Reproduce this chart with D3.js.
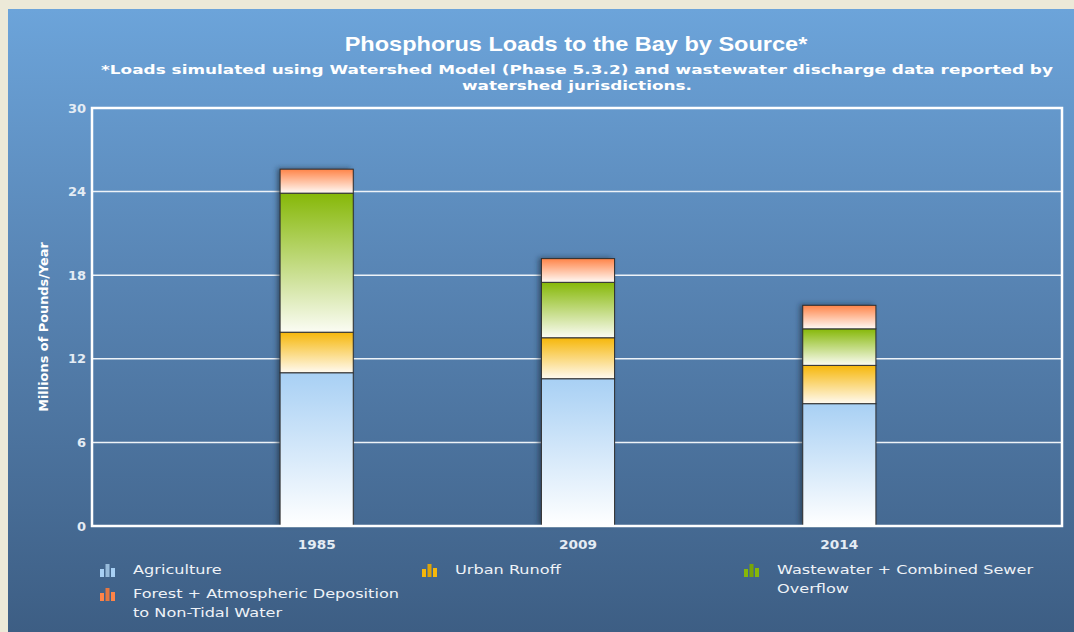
<!DOCTYPE html>
<html>
<head>
<meta charset="utf-8">
<script src="https://cdn.jsdelivr.net/npm/d3@7"></script>
<style>
  body { margin: 0; background: #ece9d8; }
  svg { display: block; }
</style>
</head>
<body>
<div class="vis-holder"></div>
<script>
var years = ["1985", "2009", "2014"];
var sources = ["Agriculture", "Urban Runoff", "Wastewater + Combined Sewer Overflow",
               "Forest + Atmospheric Deposition to Non-Tidal Water"];
var agriculture = [11.0, 10.57, 8.78];
var urbanRunoff = [2.91, 2.94, 2.75];
var wastewater = [9.98, 3.98, 2.62];
var forest = [1.72, 1.70, 1.69];
var yTicks = [0, 6, 12, 18, 24, 30];

var colors = ["#a8d0f4", "#f6b70a", "#86b808", "#ff8448"];
var bottoms = ["#ffffff", "#fffaf0", "#fbfcf4", "#fffaf6"];

var width = 1074;
var height = 632;
var margin = { top: 108, bottom: 106, left: 92, right: 12 };

// the original page is drawn a bit wider than the fonts we have
function stretch(sel, k) {
  sel.each(function() {
    var w = this.getComputedTextLength();
    d3.select(this).attr("textLength", w * k).attr("lengthAdjust", "spacingAndGlyphs");
  });
}

var svg = d3.select('div.vis-holder')
            .append('svg')
            .attr('width', width)
            .attr('height', height);

var defs = svg.append("defs");

var bg = defs.append("linearGradient").attr("id", "bg")
             .attr("x1", 0).attr("y1", 0).attr("x2", 0).attr("y2", 1);
bg.append("stop").attr("offset", "0%").attr("stop-color", "#6ca4da");
bg.append("stop").attr("offset", "45%").attr("stop-color", "#5783b2");
bg.append("stop").attr("offset", "100%").attr("stop-color", "#3d5e84");

colors.forEach(function(c, i) {
  var g = defs.append("linearGradient").attr("id", "seg" + i)
              .attr("x1", 0).attr("y1", 0).attr("x2", 0).attr("y2", 1);
  g.append("stop").attr("offset", "0%").attr("stop-color", c);
  g.append("stop").attr("offset", "100%").attr("stop-color", bottoms[i]);
});

var shadow = defs.append("filter").attr("id", "shadow")
                 .attr("x", "-30%").attr("y", "-10%").attr("width", "140%").attr("height", "120%");
shadow.append("feDropShadow").attr("dx", -3).attr("dy", -1)
      .attr("stdDeviation", 2.5).attr("flood-color", "#1a2a3a").attr("flood-opacity", 0.6);

// panel
svg.append("rect")
   .attr("x", 8).attr("y", 9)
   .attr("width", width - 8).attr("height", height - 9)
   .attr("fill", "url(#bg)");

// titles
svg.append("text")
   .attr("x", 576).attr("y", 51)
   .attr("text-anchor", "middle")
   .style("font-family", "Liberation Sans, Arial, sans-serif")
   .style("font-weight", "bold").style("font-size", "21px")
   .attr("fill", "#ffffff")
   .text("Phosphorus Loads to the Bay by Source*")
   .call(stretch, 1.12);

var subLines = ["*Loads simulated using Watershed Model (Phase 5.3.2) and wastewater discharge data reported by",
                "watershed jurisdictions."];
svg.append("g").selectAll("text")
   .data(subLines).enter().append("text")
   .attr("x", 577).attr("y", function(d, i) { return 74 + i * 16; })
   .attr("text-anchor", "middle")
   .style("font-family", "DejaVu Sans, Verdana, sans-serif")
   .style("font-weight", "bold").style("font-size", "12.5px")
   .attr("fill", "#ffffff")
   .text(function(d) { return d; })
   .call(stretch, 1.35);

var xScale = d3.scaleBand()
               .domain(years)
               .range([186, 970])
               .paddingInner(0.72)
               .paddingOuter(0.36);

var yScale = d3.scaleLinear()
               .domain([0, 30])
               .range([height - margin.bottom, margin.top]);

// grid lines
svg.append("g").selectAll("line")
   .data(yTicks.slice(1, -1)).enter().append("line")
   .attr("x1", margin.left).attr("x2", width - margin.right)
   .attr("y1", function(d) { return yScale(d); })
   .attr("y2", function(d) { return yScale(d); })
   .attr("stroke", "#eef3f8").attr("stroke-width", 1.5);

// y axis labels
var yAxis = svg.append("g")
               .attr("transform", `translate(${margin.left - 6}, 0)`)
               .call(d3.axisLeft(yScale).tickValues(yTicks).tickSize(0).tickPadding(0));
yAxis.select(".domain").remove();
yAxis.selectAll("text")
     .style("font-family", "DejaVu Sans, Verdana, sans-serif")
     .style("font-weight", "bold").style("font-size", "13px")
     .attr("fill", "#e4ecf4");

// stacked bars
var series = [agriculture, urbanRunoff, wastewater, forest];
var table = years.map(function(y, i) {
  var row = { year: y };
  sources.forEach(function(s, k) { row[s] = series[k][i]; });
  return row;
});
var stacked = d3.stack().keys(sources)(table);

var bars = svg.append("g");
bars.selectAll("rect.shadow")
    .data(table).enter().append("rect")
    .attr("class", "shadow")
    .attr("x", function(d) { return xScale(d.year); })
    .attr("y", function(d) { return yScale(d3.sum(sources, s => d[s])); })
    .attr("width", xScale.bandwidth())
    .attr("height", function(d) { return yScale(0) - yScale(d3.sum(sources, s => d[s])); })
    .attr("fill", "#2a3f58")
    .attr("filter", "url(#shadow)");

bars.selectAll("g.layer")
    .data(stacked).enter().append("g")
    .attr("class", "layer")
    .attr("fill", function(d, i) { return "url(#seg" + i + ")"; })
    .selectAll("rect")
    .data(function(d) { return d; }).enter().append("rect")
    .attr("x", function(d) { return xScale(d.data.year); })
    .attr("y", function(d) { return yScale(d[1]); })
    .attr("width", xScale.bandwidth())
    .attr("height", function(d) { return yScale(d[0]) - yScale(d[1]); })
    .attr("stroke", "#2e2e2e").attr("stroke-width", 1);

// frame
svg.append("rect")
   .attr("x", margin.left).attr("y", margin.top)
   .attr("width", width - margin.left - margin.right)
   .attr("height", height - margin.top - margin.bottom)
   .attr("fill", "none")
   .attr("stroke", "#ffffff").attr("stroke-width", 2.5);

// x axis labels
var xAxis = svg.append("g")
               .attr("transform", `translate(0, ${height - margin.bottom})`)
               .call(d3.axisBottom(xScale).tickSize(0).tickPadding(14));
xAxis.select(".domain").remove();
xAxis.selectAll("text")
     .style("font-family", "DejaVu Sans, Verdana, sans-serif")
     .style("font-weight", "bold").style("font-size", "13px")
     .attr("fill", "#e4ecf4")
     .call(stretch, 1.05);

// y title
svg.append("text")
   .attr("text-anchor", "middle")
   .attr("transform", "translate(48,327)rotate(-90)")
   .style("font-family", "DejaVu Sans, Verdana, sans-serif")
   .style("font-weight", "bold").style("font-size", "11.5px")
   .attr("fill", "#ffffff")
   .text("Millions of Pounds/Year")
   .call(stretch, 1.12);

// legend
var legend = svg.append("g").selectAll("g")
   .data(sources).enter().append("g")
   .attr("transform", function(d, i) {
     return `translate(${100 + (i % 3) * 322}, ${570 + Math.floor(i / 3) * 24})`;
   });

var iconBars = [8, 13, 9];
legend.each(function(d, i) {
  var g = d3.select(this);
  g.selectAll("rect").data(iconBars).enter().append("rect")
   .attr("x", function(h, j) { return j * 5.5; })
   .attr("y", function(h) { return 7 - h; })
   .attr("width", 4)
   .attr("height", function(h) { return h; })
   .attr("fill", function(h, j) { return j == 1 ? d3.color(colors[i]).darker(0.3) : colors[i]; });

  // wrap long names, one text per line
  var words = d.split(" ");
  var lines = [[]];
  var probe = g.append("text")
               .style("font-family", "DejaVu Sans, Verdana, sans-serif")
               .style("font-size", "12.5px");
  words.forEach(function(w) {
    var cur = lines[lines.length - 1];
    probe.text(cur.concat([w]).join(" "));
    if (probe.node().getComputedTextLength() > 212 && cur.length > 0) {
      lines.push([w]);
    } else {
      cur.push(w);
    }
  });
  probe.remove();

  g.selectAll("text").data(lines).enter().append("text")
   .attr("x", 33).attr("y", function(l, k) { return 4 + k * 19; })
   .style("font-family", "DejaVu Sans, Verdana, sans-serif")
   .style("font-size", "12.5px")
   .attr("fill", "#eef2f7")
   .text(function(l) { return l.join(" "); })
   .call(stretch, 1.29);
});
</script>
</body>
</html>
